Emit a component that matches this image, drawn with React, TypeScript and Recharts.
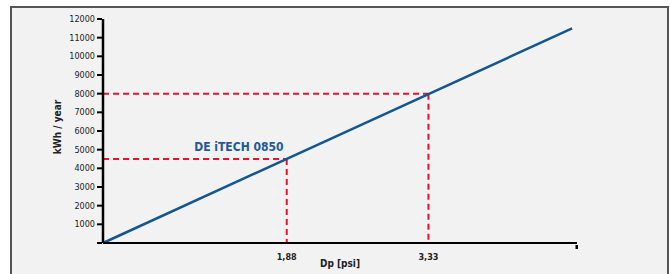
import { LineChart, Line, XAxis, YAxis, ReferenceLine, ReferenceDot } from 'recharts'

const dpValues = [0, 4.8]
const kwhValues = [0, 11500]
const markerDp = [1.88, 3.33]
const markerKwh = [4500, 8000]
const yTicks = [0, 1000, 2000, 3000, 4000, 5000, 6000, 7000, 8000, 9000, 10000, 11000, 12000]
const xMax = 4.85
const modelLabel = 'DE iTECH 0850'
const labelPos = { dp: 1.39, kwh: 5150 }

const FONT = '"DejaVu Sans Condensed", "DejaVu Sans", sans-serif'
const RED = '#e8132e'
const BLUE = '#135690'

const data = dpValues.map((dp, i) => ({ dp, kwh: kwhValues[i] }))

function YTick(props: any) {
  const { x, y, payload } = props
  return (
    <g>
      <line x1={x + 2} x2={x + 7} y1={y} y2={y} stroke="#000" strokeWidth={2} />
      {payload.value !== 0 && (
        <text x={x} y={y} dy={3} textAnchor="end" fontSize={9} fill="#222" fontFamily={FONT}>
          {payload.value}
        </text>
      )}
    </g>
  )
}

function XTick(props: any) {
  const { x, y, payload } = props
  if (payload.value === xMax) {
    return <rect x={x - 1.5} y={y - 6} width={2.5} height={4} fill="#000" />
  }
  return (
    <text x={x} y={y} dy={9} textAnchor="middle" fontSize={9} fontWeight="bold" fill="#222" fontFamily={FONT}>
      {String(payload.value).replace('.', ',')}
    </text>
  )
}

export default function App() {
  return (
    <div style={{ position: 'absolute', left: 0, top: 0, width: 671, height: 274, background: '#fff', overflow: 'hidden' }}>
      <div
        style={{
          position: 'absolute',
          left: 10,
          top: 6,
          width: 655,
          height: 280,
          background: '#f2f2f2',
          border: '2px solid #555',
        }}
      />
      <div style={{ position: 'absolute', left: 0, top: 0 }}>
        <LineChart width={671} height={274} data={data} margin={{ top: 19, right: 94, bottom: 1, left: 43 }}>
          <XAxis
            dataKey="dp"
            type="number"
            domain={[0, xMax]}
            ticks={[...markerDp, xMax]}
            tickLine={false}
            axisLine={{ stroke: '#000', strokeWidth: 2 }}
            tick={<XTick />}
            height={30}
            label={{ value: 'Dp [psi]', position: 'insideBottom', offset: 6, fontSize: 10, fontWeight: 'bold', fill: '#222', fontFamily: FONT }}
          />
          <YAxis
            type="number"
            domain={[0, 12000]}
            ticks={yTicks}
            interval={0}
            tickLine={false}
            axisLine={{ stroke: '#000', strokeWidth: 2.5 }}
            tick={<YTick />}
            width={60}
            label={{ value: 'kWh / year', angle: -90, position: 'center', dx: -16, dy: -4, fontSize: 10, fontWeight: 'bold', fill: '#222', fontFamily: FONT }}
          />
          {markerDp.map((dp, i) => (
            <ReferenceLine
              key={'h' + i}
              segment={[{ x: 0, y: markerKwh[i] }, { x: dp, y: markerKwh[i] }]}
              stroke={RED}
              strokeWidth={2}
              strokeDasharray="6 4"
            />
          ))}
          {markerDp.map((dp, i) => (
            <ReferenceLine
              key={'v' + i}
              segment={[{ x: dp, y: markerKwh[i] }, { x: dp, y: 0 }]}
              stroke={RED}
              strokeWidth={2}
              strokeDasharray="6 4"
            />
          ))}
          <Line dataKey="kwh" stroke={BLUE} strokeWidth={2.5} dot={false} isAnimationActive={false} />
          <ReferenceDot
            x={labelPos.dp}
            y={labelPos.kwh}
            r={0}
            fill="none"
            stroke="none"
            label={{ value: modelLabel, position: 'center', fontSize: 12, fontWeight: 'bold', fill: '#1d5a98', fontFamily: FONT }}
          />
        </LineChart>
      </div>
    </div>
  )
}
